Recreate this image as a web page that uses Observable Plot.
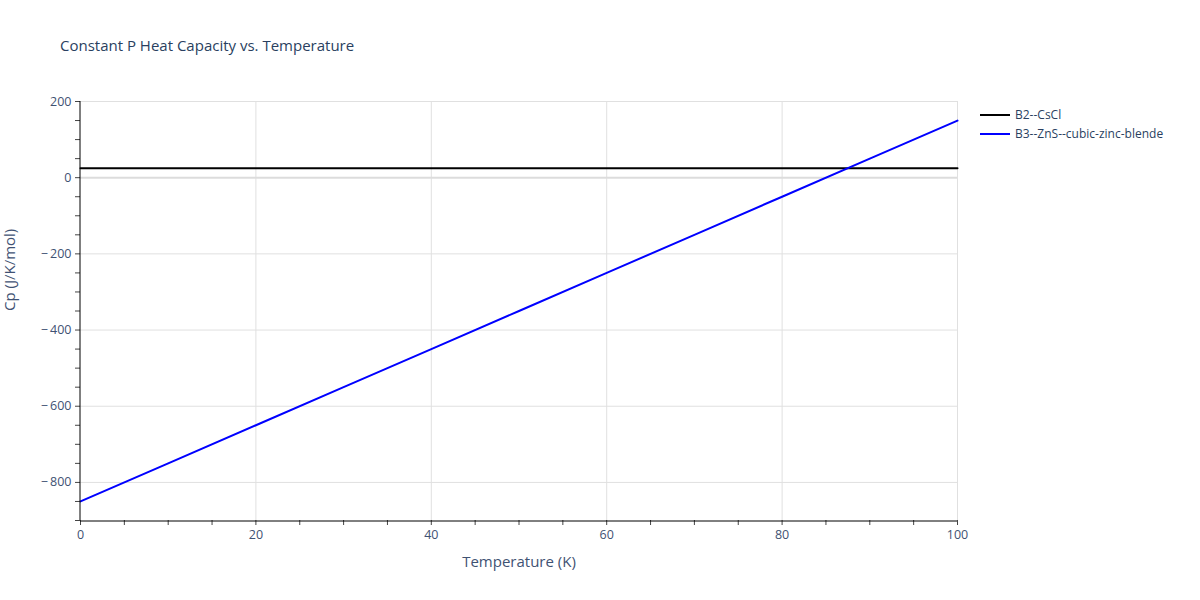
<!DOCTYPE html>
<html>
<head>
<meta charset="utf-8">
<script src="https://cdn.jsdelivr.net/npm/d3@7"></script>
<script src="https://cdn.jsdelivr.net/npm/@observablehq/plot@0.6"></script>
<style>
  body { margin: 0; background: #fff; font-family: "Open Sans", sans-serif; }
  #wrap { position: relative; width: 1200px; height: 600px; }
  #title { position: absolute; left: 60px; top: 35px; font-size: 15px; color: #2a3f5f; }
  #legend { position: absolute; left: 980px; top: 105px; font-size: 12px; color: #2a3f5f; }
  .item { display: flex; align-items: center; height: 19px; }
  .swatch { width: 30px; height: 2px; margin-right: 5px; }
</style>
</head>
<body>
<div id="wrap">
  <div id="chart"></div>
  <div id="title">Constant P Heat Capacity vs. Temperature</div>
  <div id="legend"></div>
</div>
<script>
const temperature = [0, 10, 20, 30, 40, 50, 60, 70, 80, 90, 100];
const cpCsCl = [25, 25, 25, 25, 25, 25, 25, 25, 25, 25, 25];
const cpZnS = [-850, -750, -650, -550, -450, -350, -250, -150, -50, 50, 150];
const seriesNames = ["B2--CsCl", "B3--ZnS--cubic-zinc-blende"];
const seriesColors = ["#000000", "#0000ff"];
const xTicks = [0, 20, 40, 60, 80, 100];
const yTicks = [-800, -600, -400, -200, 0, 200];

const data = [];
temperature.forEach((t, i) => {
  data.push({T: t, cp: cpCsCl[i], s: seriesNames[0]});
  data.push({T: t, cp: cpZnS[i], s: seriesNames[1]});
});

const xMinor = d3.range(0, 101, 5);
const yMinor = d3.range(-900, 201, 50);

const plot = Plot.plot({
  width: 1200,
  height: 600,
  marginLeft: 80,
  marginRight: 243,
  marginTop: 101,
  marginBottom: 80,
  style: {fontFamily: "'Open Sans', sans-serif", fontSize: "12px", color: "#2a3f5f"},
  x: {domain: [0, 100]},
  y: {domain: [-900, 200]},
  color: {domain: seriesNames, range: seriesColors},
  marks: [
    Plot.gridX(xTicks.slice(1), {stroke: "#e0e0e0", strokeOpacity: 1}),
    Plot.gridY(yTicks.filter(d => d !== 0), {stroke: "#e0e0e0", strokeOpacity: 1}),
    Plot.ruleY([0], {stroke: "#dcdcdc", strokeWidth: 2}),
    Plot.line(data, {x: "T", y: "cp", z: "s", stroke: "s", strokeWidth: 2}),
    Plot.axisX(xMinor, {tickSize: 5, stroke: "#444", tickFormat: d => xTicks.includes(d) ? String(d) : "", tickPadding: 5, fontSize: 12.5, fill: "#3f5273", label: null}),
    Plot.axisY(yMinor, {tickSize: 5, stroke: "#444", tickFormat: d => yTicks.includes(d) ? (d < 0 ? "\u2212\u2009" + Math.abs(d) : String(d)) : "", tickPadding: 4, fontSize: 12.5, fill: "#3f5273", label: null}),
    Plot.ruleX([0], {stroke: "#000", strokeWidth: 1, dx: -0.5}),
    Plot.ruleY([-900], {stroke: "#000", strokeWidth: 1, dy: 0.5}),
    Plot.text(["Temperature (K)"], {frameAnchor: "bottom", dy: 46, fontSize: 15, fill: "#3f5273"}),
    Plot.text(["Cp (J/K/mol)"], {frameAnchor: "left", dx: -70, rotate: -90, fontSize: 15, fill: "#3f5273"})
  ]
});
document.getElementById("chart").appendChild(plot);

const legend = document.getElementById("legend");
seriesNames.forEach((n, i) => {
  const row = document.createElement("div");
  row.className = "item";
  const sw = document.createElement("div");
  sw.className = "swatch";
  sw.style.background = seriesColors[i];
  const lab = document.createElement("span");
  lab.textContent = n;
  row.appendChild(sw);
  row.appendChild(lab);
  legend.appendChild(row);
});
</script>
</body>
</html>
